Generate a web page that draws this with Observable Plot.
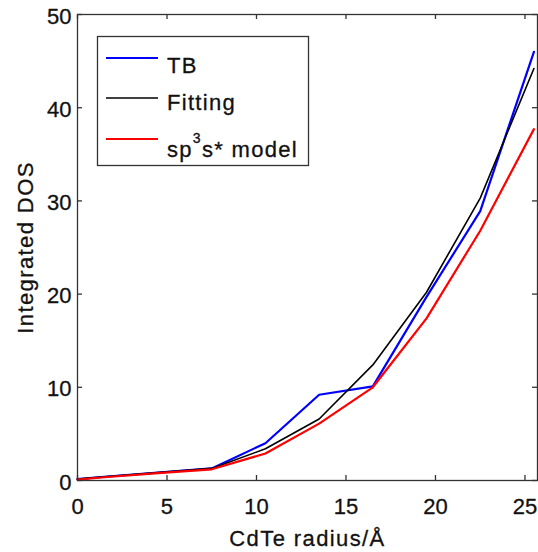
<!DOCTYPE html>
<html>
<head>
<meta charset="utf-8">
<script src="https://cdn.jsdelivr.net/npm/d3@7"></script>
<script src="https://cdn.jsdelivr.net/npm/@observablehq/plot@0.6"></script>
<style>
  html, body { margin: 0; padding: 0; background: #fff; }
  #wrap { position: relative; width: 538px; height: 552px; overflow: hidden; }
  #legend { position: absolute; left: 0; top: 0; }
</style>
</head>
<body>
<div id="wrap"></div>
<script>
const radius = [0, 1.5, 4.5, 7.5, 10.5, 13.5, 16.5, 19.5, 22.5, 25.5];
const tbDos = [0.15, 0.4, 0.85, 1.3, 4.0, 9.2, 10.1, 19.7, 28.9, 46.0];
const fitDos = [0.15, 0.4, 0.85, 1.3, 3.4, 6.6, 12.4, 20.2, 30.3, 44.2];
const sp3Dos = [0.1, 0.35, 0.8, 1.2, 2.9, 6.1, 10.0, 17.4, 26.8, 37.7];
const xTicks = [0, 5, 10, 15, 20, 25];
const yTicks = [0, 10, 20, 30, 40, 50];
const series = ["TB", "Fitting", "sp3s* model"];
const colors = ["#0000ff", "#000000", "#ff0000"];
const widths = [2.2, 1.6, 2.2];
const xLabel = "CdTe radius/Å";
const yLabel = "Integrated DOS";

const rows = [];
[tbDos, fitDos, sp3Dos].forEach((vals, i) => {
  vals.forEach((v, j) => rows.push({s: series[i], x: radius[j], y: v}));
});

const font = "'Liberation Sans', Arial, sans-serif";
const fs = 22;
const ink = "#111";
const plot = Plot.plot({
  width: 538,
  height: 552,
  marginLeft: 77,
  marginRight: 1,
  marginTop: 14,
  marginBottom: 72,
  style: {fontFamily: font, fontSize: fs + "px", color: ink, background: "#fff", overflow: "visible"},
  x: {domain: [0, 25.7], axis: null},
  y: {domain: [0, 50], axis: null},
  marks: [
    ...series.map((s, i) => Plot.line(rows.filter(d => d.s === s), {x: "x", y: "y", stroke: colors[i], strokeWidth: widths[i]})),
    Plot.frame({stroke: "#333", strokeWidth: 1.3}),
    Plot.tickX(xTicks, {x: d => d, insetTop: 461, stroke: "#333", strokeWidth: 1.3}),
    Plot.tickX(xTicks, {x: d => d, insetBottom: 461, stroke: "#333", strokeWidth: 1.3}),
    Plot.tickY(yTicks, {y: d => d, insetRight: 455, stroke: "#333", strokeWidth: 1.3}),
    Plot.tickY(yTicks, {y: d => d, insetLeft: 455, stroke: "#333", strokeWidth: 1.3}),
    Plot.text(xTicks, {x: d => d, text: d => String(d), frameAnchor: "bottom", textAnchor: "middle", lineAnchor: "top", dy: 18, fontSize: fs, fill: ink, stroke: ink, strokeWidth: 0.3}),
    Plot.text(yTicks, {y: d => d, text: d => String(d), frameAnchor: "left", textAnchor: "end", lineAnchor: "middle", dx: -6, dy: 2, fontSize: fs, fill: ink, stroke: ink, strokeWidth: 0.3}),
    Plot.text([xLabel], {text: d => d, frameAnchor: "bottom", textAnchor: "middle", lineAnchor: "bottom", dy: 65, fontSize: fs, fill: ink, stroke: ink, strokeWidth: 0.3}),
    Plot.text([yLabel], {text: d => d, frameAnchor: "left", textAnchor: "middle", lineAnchor: "bottom", rotate: -90, dx: -45, fontSize: fs, fill: ink, stroke: ink, strokeWidth: 0.3})
  ]
});
plot.querySelectorAll("text").forEach(t => {
  if (t.textContent.length > 3) t.setAttribute("letter-spacing", "1.4");
});
const wrap = document.getElementById("wrap");
wrap.appendChild(plot);

// legend overlay
const ns = "http://www.w3.org/2000/svg";
const lg = document.createElementNS(ns, "svg");
lg.setAttribute("id", "legend");
lg.setAttribute("width", 538);
lg.setAttribute("height", 552);
lg.setAttribute("font-family", font);
const box = document.createElementNS(ns, "rect");
box.setAttribute("x", 97.5); box.setAttribute("y", 36.5);
box.setAttribute("width", 211); box.setAttribute("height", 129);
box.setAttribute("fill", "#fff"); box.setAttribute("stroke", "#333"); box.setAttribute("stroke-width", 1.3);
lg.appendChild(box);
const lineYs = [58, 98, 139];
const baseYs = [73, 110, 157];
series.forEach((s, i) => {
  const ln = document.createElementNS(ns, "line");
  ln.setAttribute("x1", 106); ln.setAttribute("x2", 158);
  ln.setAttribute("y1", lineYs[i]); ln.setAttribute("y2", lineYs[i]);
  ln.setAttribute("stroke", colors[i]); ln.setAttribute("stroke-width", widths[i]);
  lg.appendChild(ln);
  const tx = document.createElementNS(ns, "text");
  tx.setAttribute("x", 167); tx.setAttribute("y", baseYs[i]);
  tx.setAttribute("font-size", fs); tx.setAttribute("fill", ink);
  tx.setAttribute("stroke", ink); tx.setAttribute("stroke-width", 0.3);
  tx.setAttribute("letter-spacing", "1.3");
  if (s === "sp3s* model") {
    const a = document.createElementNS(ns, "tspan"); a.textContent = "sp";
    const b = document.createElementNS(ns, "tspan"); b.textContent = "3";
    b.setAttribute("font-size", 14); b.setAttribute("dy", -14);
    const c = document.createElementNS(ns, "tspan"); c.textContent = "s* model";
    c.setAttribute("dy", 14);
    tx.appendChild(a); tx.appendChild(b); tx.appendChild(c);
  } else {
    tx.textContent = s;
  }
  lg.appendChild(tx);
});
wrap.appendChild(lg);
</script>
</body>
</html>
